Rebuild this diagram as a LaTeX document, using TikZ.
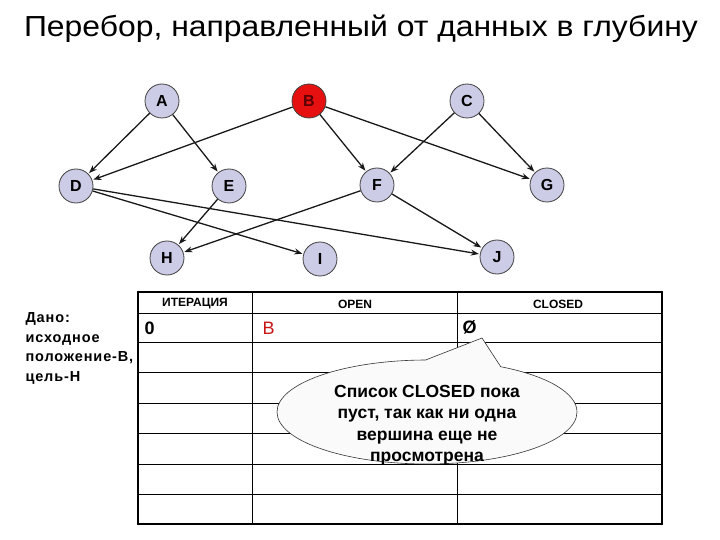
\documentclass[tikz,border=0pt]{standalone}
\usepackage{fontspec}
\setmainfont{Liberation Sans}
\newfontfamily\spacedfont[LetterSpace=6]{Liberation Sans}
\usepackage{tikz}
\usetikzlibrary{arrows.meta, shapes.callouts, positioning}

\definecolor{vertexfill}{RGB}{204,204,230}
\definecolor{vertexline}{RGB}{64,64,64}
\definecolor{startfill}{RGB}{230,16,16}
\definecolor{startText}{RGB}{90,0,0}
\definecolor{openred}{RGB}{200,20,20}
\definecolor{notefill}{RGB}{250,250,250}

\begin{document}
\begin{tikzpicture}[x=1pt, y=-1pt,%
  vertex/.style={circle, draw=vertexline, fill=vertexfill, line width=0.8pt, minimum size=34pt, inner sep=0pt, font=\fontsize{16}{16}\selectfont\bfseries},%
  start/.style={vertex, fill=startfill, text=startText},%
  arrow/.style={-{Stealth[length=8pt, width=6pt]}, line width=1.3pt, draw=black!90, shorten >=1pt},%
  header/.style={font=\fontsize{12}{12}\selectfont\bfseries},%
  cell/.style={anchor=west, font=\fontsize{18}{18}\selectfont\bfseries},%
  thinline/.style={line width=0.8pt},%
  frame/.style={line width=1.8pt}%
]
  \useasboundingbox (0,0) rectangle (720,540);

  % title
  \node[anchor=base, font=\fontsize{29}{29}\selectfont] (title) at (361,37) {\scalebox{1.1}[1]{Перебор, направленный от данных в глубину}};

  % graph
  \node[vertex] (A) at (162,101) {A};
  \node[start]  (B) at (309,101) {B};
  \node[vertex] (C) at (467,101) {C};
  \node[vertex] (D) at (76,186)  {D};
  \node[vertex] (E) at (229,186) {E};
  \node[vertex] (F) at (377,185) {F};
  \node[vertex] (G) at (547,185) {G};
  \node[vertex] (H) at (167,258) {H};
  \node[vertex] (I) at (320,259) {I};
  \node[vertex] (J) at (497,257) {J};

  \draw[arrow] (A) -- (D);
  \draw[arrow] (A) -- (E);
  \draw[arrow] (B) -- (D);
  \draw[arrow] (B) -- (F);
  \draw[arrow] (B) -- (G);
  \draw[arrow] (C) -- (F);
  \draw[arrow] (C) -- (G);
  \draw[arrow] (D) -- (I);
  \draw[arrow] (D) -- (J);
  \draw[arrow] (E) -- (H);
  \draw[arrow] (F) -- (H);
  \draw[arrow] (F) -- (J);

  % table
  \foreach \y in {313,342,372,403,433,464,494}
    \draw[thinline] (138,\y) -- (662,\y);
  \draw[thinline] (252,292) -- (252,524);
  \draw[thinline] (457,292) -- (457,524);
  \draw[frame] (138,292) rectangle (662,524);

  \node[header] (iter)   at (195,304) {ИТЕРАЦИЯ};
  \node[header] (open)   at (355,304) {OPEN};
  \node[header] (closed) at (558,304) {CLOSED};

  \node[cell] (iter0)   at (141,328) {0};
  \node[cell, font=\fontsize{18}{18}\selectfont, text=openred] (open0) at (259,328) {B};
  \node[cell] (closed0) at (459,327) {Ø};

  % given
  \node[anchor=north west, align=left, font=\fontsize{14.5}{19.5}\selectfont\bfseries\spacedfont] (given) at (22,309)
    {Дано:\\исходное\\положение-В,\\цель-Н};

  % callout
  \node[ellipse callout, draw=black!80, fill=notefill, line width=0.6pt, minimum width=300pt, minimum height=104pt,
        callout absolute pointer={(482,338)}, callout pointer arc=30] (note) at (427,412) {};
  \node[align=center, font=\fontsize{17.5}{21.5}\selectfont\bfseries] (notetext) at (427,425)
    {Список CLOSED пока\\пуст, так как ни одна\\вершина еще не\\просмотрена};
\end{tikzpicture}
\end{document}
